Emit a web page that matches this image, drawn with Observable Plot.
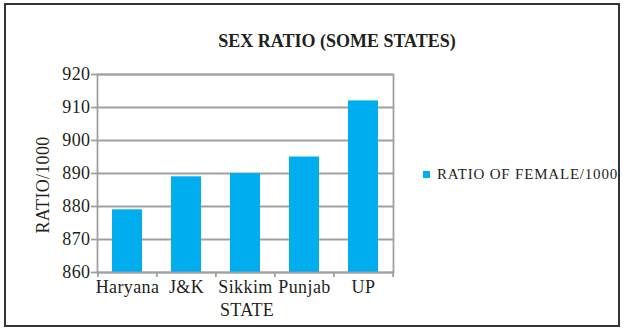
<!DOCTYPE html>
<html><head><meta charset="utf-8">
<script src="https://cdn.jsdelivr.net/npm/d3@7"></script>
<script src="https://cdn.jsdelivr.net/npm/@observablehq/plot@0.6"></script>
<style>
body{margin:0;background:#fff;}
#wrap{position:relative;width:624px;height:330px;font-family:"Liberation Serif","Times New Roman",serif;color:#231f20;overflow:hidden;background:#fff}
#border{position:absolute;left:4px;top:3px;width:612px;height:320px;border:2px solid #333;}
#chart{position:absolute;left:0;top:0;}
.lbl{position:absolute;white-space:nowrap;transform:translate(-50%,-50%);}
#title{left:337px;top:41px;font-weight:bold;font-size:18px;}
#ylabel{left:43px;top:185px;font-size:18px;letter-spacing:0.3px;transform:translate(-50%,-50%) rotate(-90deg);}
#xlabel{left:247px;top:310px;font-size:18px;letter-spacing:0.3px;}
#legend{position:absolute;left:423px;top:166px;display:flex;align-items:center;font-family:"Liberation Serif","Times New Roman",serif;font-size:15px;letter-spacing:0.8px;white-space:nowrap;}
#legend .sw{width:7px;height:7px;background:#00aeef;margin-right:7px;}
</style></head>
<body>
<div id="wrap">
  <div id="chart"></div>
  <div id="border"></div>
  <div id="title" class="lbl">SEX RATIO (SOME STATES)</div>
  <div id="ylabel" class="lbl">RATIO/1000</div>
  <div id="xlabel" class="lbl">STATE</div>
  <div id="legend"><div class="sw"></div><span>RATIO OF FEMALE/1000</span></div>
</div>
<script>
const states = ["Haryana", "J&K", "Sikkim", "Punjab", "UP"];
const ratio = [879, 889, 890, 895, 912];
const yTicks = [860, 870, 880, 890, 900, 910, 920];

const data = states.map((s, i) => ({state: s, value: ratio[i]}));
const W = 624, H = 330, mL = 97, mR = 231, mT = 74, mB = 58;
const step = (W - mL - mR) / states.length;
const gray = "#a0a0a0";
const serif = "'Liberation Serif','Times New Roman',serif";

const chart = Plot.plot({
  width: W, height: H,
  marginLeft: mL, marginRight: mR, marginTop: mT, marginBottom: mB,
  style: {fontFamily: serif, fontSize: "18px", color: "#231f20", background: "transparent", overflow: "visible", letterSpacing: "0.4px"},
  x: {domain: states, paddingInner: 0.5, paddingOuter: 0.25, label: null},
  y: {domain: [860, 920], ticks: yTicks, label: null},
  marks: [
    Plot.gridY(yTicks, {stroke: gray, strokeWidth: 1.8, strokeOpacity: 1}),
    Plot.barY(data, {x: "state", y1: 860, y2: "value", fill: "#00aeef"}),
    Plot.frame({stroke: gray, strokeWidth: 1.8}),
    Plot.axisY(yTicks, {tickSize: 6, tickPadding: 1, stroke: gray, strokeWidth: 1.8, fill: "#231f20", fontSize: 18, fontFamily: serif, label: null, tickFormat: d => d}),
    Plot.axisX({tickSize: 0, tickPadding: 8, fontSize: 18, fontFamily: serif, fill: "#231f20", label: null}),
    Plot.ruleX(states, {x: d => d, dx: -step / 2, insetTop: H - mT - mB, insetBottom: -5, stroke: gray, strokeWidth: 1.8}),
    Plot.ruleX(states.slice(-1), {x: d => d, dx: step / 2, insetTop: H - mT - mB, insetBottom: -5, stroke: gray, strokeWidth: 1.8})
  ]
});
document.getElementById("chart").appendChild(chart);
</script>
</body></html>
